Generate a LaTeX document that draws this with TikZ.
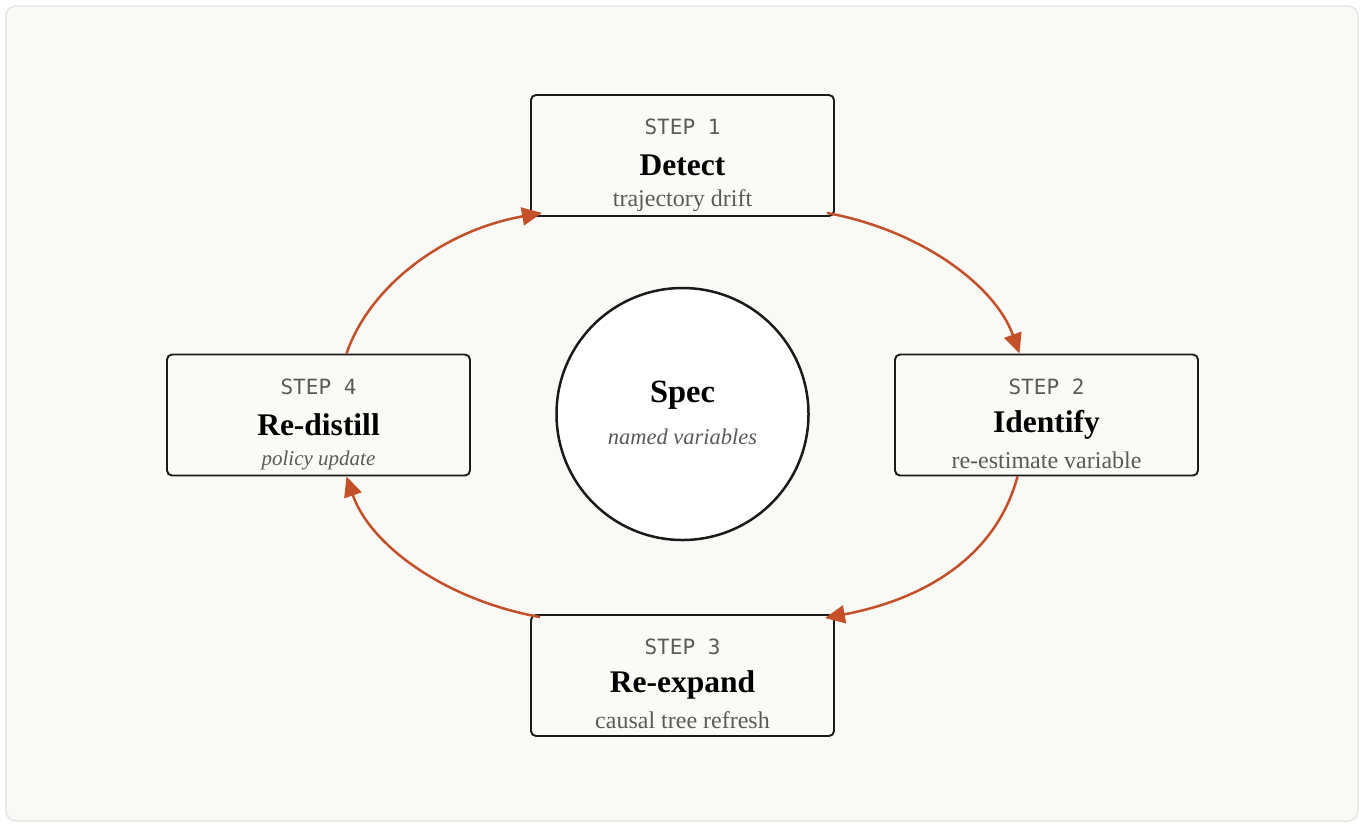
\documentclass[tikz,border=0pt]{standalone}
\usepackage{fontspec}
\setmainfont{Liberation Serif}
\newfontfamily\stepfont{DejaVu Sans Mono}
\usetikzlibrary{arrows.meta,calc}
\definecolor{panelbg}{HTML}{F9F9F5}
\definecolor{panelline}{HTML}{E6E6E6}
\definecolor{boxfill}{HTML}{FAFAF7}
\definecolor{boxline}{HTML}{1A1A1A}
\definecolor{arrowc}{HTML}{C4502A}
\definecolor{subgray}{HTML}{5A5A5A}
\tikzset{
  stepbox/.style={draw=boxline, fill=boxfill, line width=1.9pt, rounded corners=5pt,
    minimum width=303pt, minimum height=121pt, inner sep=0pt},
  steplabel/.style={font=\stepfont\fontsize{21}{24}\selectfont, text=subgray, inner sep=0pt},
  steptitle/.style={font=\bfseries\fontsize{31.5}{34}\selectfont, text=black, inner sep=0pt},
  stepsub/.style={font=\fontsize{24}{26}\selectfont, text=subgray, inner sep=0pt},
  flow/.style={draw=arrowc, line width=2.5pt, -{Triangle[length=20pt,width=18pt]}},
}
\begin{document}
\begin{tikzpicture}[x=1pt,y=-1pt]
\useasboundingbox (0,0) rectangle (1364,823);
\fill[white] (0,0) rectangle (1364,823);
\draw[fill=panelbg, draw=panelline, line width=1.5pt, rounded corners=10pt] (6,6) rectangle (1358,821);

% boxes
\node[stepbox] (s1) at (682.5,155.5) {};
\node[stepbox] (s2) at (1046.5,415) {};
\node[stepbox] (s3) at (682.5,675.5) {};
\node[stepbox] (s4) at (318.5,415) {};

% center circle
\node[draw=boxline, fill=white, line width=2.5pt, circle, minimum size=252pt, inner sep=0pt] (spec) at (682.5,414) {};
\node[steptitle, font=\bfseries\fontsize{32.5}{35}\selectfont] (spect) at ($(spec.center)+(0,-19)$) {Spec};
\node[stepsub, font=\itshape\fontsize{22.5}{25}\selectfont] (specs) at ($(spec.center)+(0,22.5)$) {named variables};

% texts
\node[steplabel] (l1) at ($(s1.center)+(0,-28.5)$) {STEP\ 1};
\node[steptitle] (t1) at ($(s1.center)+(0,9.5)$) {Detect};
\node[stepsub] (d1) at ($(s1.center)+(0,45)$) {trajectory drift};

\node[steplabel] (l2) at ($(s2.center)+(0,-28.5)$) {STEP\ 2};
\node[steptitle] (t2) at ($(s2.center)+(0,9.5)$) {Identify};
\node[stepsub] (d2) at ($(s2.center)+(0,45)$) {re-estimate variable};

\node[steplabel] (l3) at ($(s3.center)+(0,-28.5)$) {STEP\ 3};
\node[steptitle] (t3) at ($(s3.center)+(0,9.5)$) {Re-expand};
\node[stepsub] (d3) at ($(s3.center)+(0,45)$) {causal tree refresh};

\node[steplabel] (l4) at ($(s4.center)+(0,-28.5)$) {STEP\ 4};
\node[steptitle] (t4) at ($(s4.center)+(0,9.5)$) {Re-distill};
\node[stepsub, font=\itshape\fontsize{21}{23}\selectfont] (d4) at ($(s4.center)+(0,45)$) {policy update};

% arrows
\coordinate (a1s) at ($(s1.south east)+(-8,-4)$);
\coordinate (a1e) at ($(s2.north)+(-27,0)$);
\coordinate (a2s) at ($(s2.south)+(-29,0)$);
\coordinate (a2e) at ($(s3.north east)+(-10,4)$);
\coordinate (a3s) at ($(s3.north west)+(10,3)$);
\coordinate (a3e) at ($(s4.south)+(28,0)$);
\coordinate (a4s) at ($(s4.north)+(28,0)$);
\coordinate (a4e) at ($(s1.south west)+(12,-4)$);

\draw[flow] (a1s) .. controls (920,230) and (995,285) .. (a1e);
\draw[flow] (a2s) .. controls (995,560) and (920,600) .. (a2e);
\draw[flow] (a3s) .. controls (445,600) and (370,545) .. (a3e);
\draw[flow] (a4s) .. controls (370,285) and (445,230) .. (a4e);
\end{tikzpicture}
\end{document}
